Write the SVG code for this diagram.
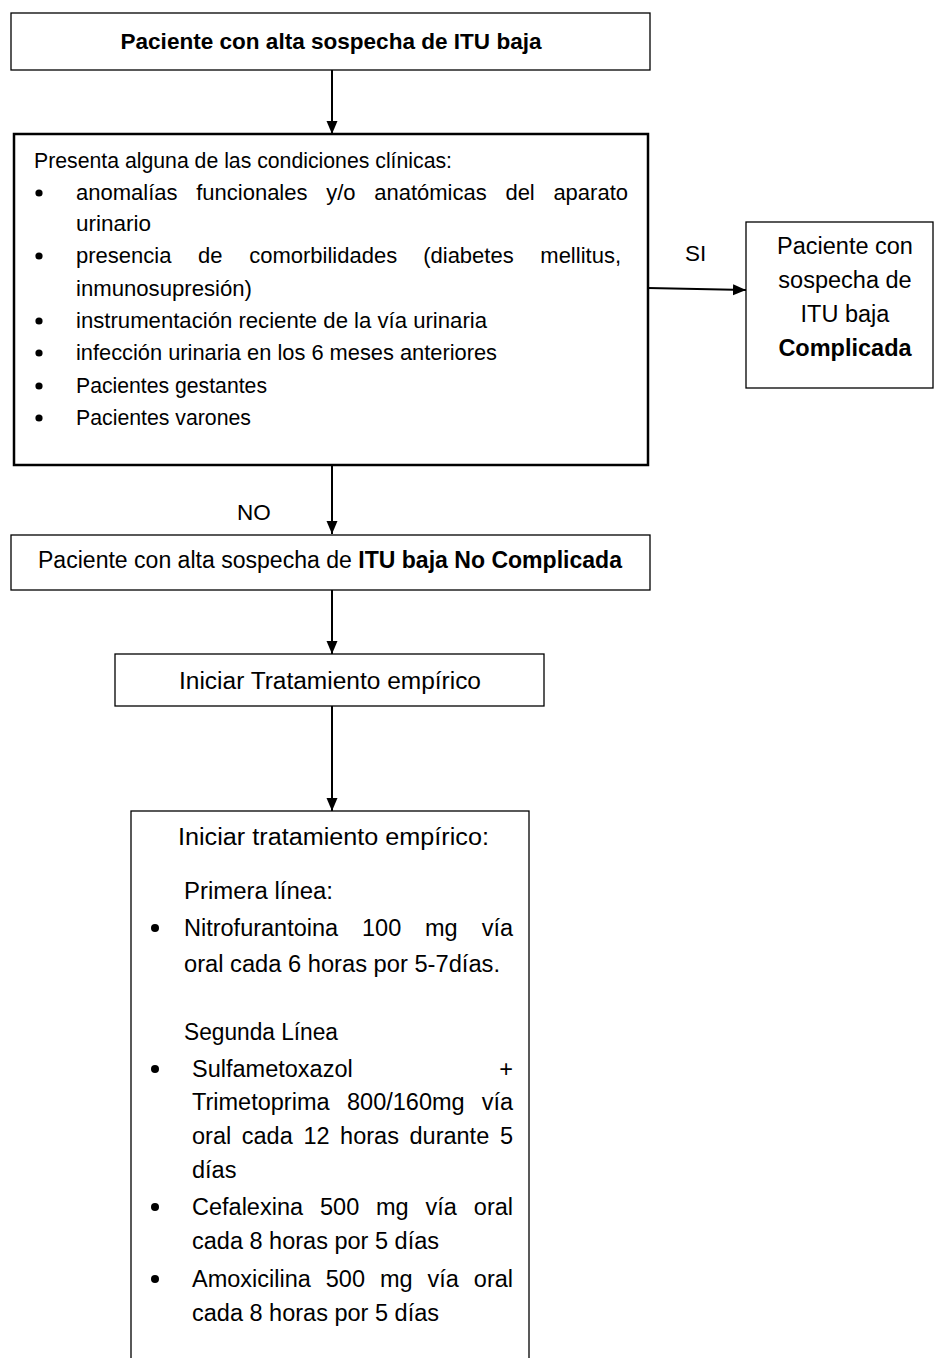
<svg xmlns="http://www.w3.org/2000/svg" width="934" height="1358" viewBox="0 0 934 1358">
<style>
text{font-family:"Liberation Sans",Arial,sans-serif;fill:#000}
.box{fill:#fff;stroke:#000;stroke-width:1.3}
.thick{fill:#fff;stroke:#000;stroke-width:2.5}
.t2{font-size:22px}
.t6{font-size:23.5px}
.b{font-weight:bold}
.c{text-anchor:middle}
.e{text-anchor:end}
.edge{stroke:#000;stroke-width:2;fill:none;marker-end:url(#ah)}
</style>
<defs>
<marker id="ah" markerUnits="userSpaceOnUse" markerWidth="14" markerHeight="12" refX="13" refY="5.5" orient="auto">
<path d="M0,0 L13,5.5 L0,11 z" fill="#000"/>
</marker>
</defs>
<rect width="934" height="1358" fill="#fff"/>
<g id="connectors">
<line class="edge" x1="332" y1="70" x2="332" y2="134"/>
<line class="edge" x1="648" y1="288" x2="746" y2="290"/>
<line class="edge" x1="332" y1="465" x2="332" y2="534"/>
<line class="edge" x1="332" y1="590" x2="332" y2="654"/>
<line class="edge" x1="332" y1="706" x2="332" y2="811"/>
<text x="685" y="261" font-size="22.5">SI</text>
<text x="237" y="520" font-size="22.5">NO</text>
</g>
<g id="n1">
<rect class="box" x="11" y="13" width="639" height="57"/>
<text class="b c" x="331" y="49" font-size="22.5" textLength="421" lengthAdjust="spacingAndGlyphs">Paciente con alta sospecha de ITU baja</text>
</g>
<g id="n2">
<rect class="thick" x="14" y="134" width="634" height="331"/>
<g class="t2">
<text x="34" y="168" textLength="418" lengthAdjust="spacingAndGlyphs">Presenta alguna de las condiciones clínicas:</text>
<circle cx="39" cy="193" r="3.6"/>
<text x="76" y="200">anomalías</text><text x="196.2" y="200">funcionales</text><text x="326.2" y="200">y/o</text><text x="374.2" y="200">anatómicas</text><text x="505.4" y="200">del</text><text class="e" x="628" y="200">aparato</text>
<text x="76" y="231" textLength="75" lengthAdjust="spacingAndGlyphs">urinario</text>
<circle cx="39" cy="256" r="3.6"/>
<text x="76" y="263">presencia</text><text x="198" y="263">de</text><text x="249.2" y="263">comorbilidades</text><text x="423.2" y="263">(diabetes</text><text class="e" x="621" y="263">mellitus,</text>
<text x="76" y="296" textLength="176" lengthAdjust="spacingAndGlyphs">inmunosupresión)</text>
<circle cx="39" cy="321" r="3.6"/>
<text x="76" y="328" textLength="411" lengthAdjust="spacingAndGlyphs">instrumentación reciente de la vía urinaria</text>
<circle cx="39" cy="353" r="3.6"/>
<text x="76" y="360" textLength="421" lengthAdjust="spacingAndGlyphs">infección urinaria en los 6 meses anteriores</text>
<circle cx="39" cy="386" r="3.6"/>
<text x="76" y="393" textLength="191" lengthAdjust="spacingAndGlyphs">Pacientes gestantes</text>
<circle cx="39" cy="418" r="3.6"/>
<text x="76" y="425" textLength="175" lengthAdjust="spacingAndGlyphs">Pacientes varones</text>
</g>
</g>
<g id="n3">
<rect class="box" x="746" y="222" width="187" height="166"/>
<g class="t6 c">
<text x="845" y="254">Paciente con</text>
<text x="845" y="288">sospecha de</text>
<text x="845" y="322">ITU baja</text>
<text class="b" x="845" y="356">Complicada</text>
</g>
</g>
<g id="n4">
<rect class="box" x="11" y="535" width="639" height="55"/>
<text class="t6" x="38" y="568" textLength="584" lengthAdjust="spacingAndGlyphs">Paciente con alta sospecha de <tspan class="b">ITU baja No Complicada</tspan></text>
</g>
<g id="n5">
<rect class="box" x="115" y="654" width="429" height="52"/>
<text class="t6 c" x="330" y="689" textLength="302" lengthAdjust="spacingAndGlyphs">Iniciar Tratamiento empírico</text>
</g>
<g id="n6">
<rect class="box" x="131" y="811" width="398" height="570"/>
<g class="t6">
<text x="178" y="845" textLength="311" lengthAdjust="spacingAndGlyphs">Iniciar tratamiento empírico:</text>
<text x="184" y="899" textLength="149" lengthAdjust="spacingAndGlyphs">Primera línea:</text>
<circle cx="155" cy="928" r="4"/>
<text x="184" y="936">Nitrofurantoina</text><text x="362" y="936">100</text><text x="425" y="936">mg</text><text class="e" x="513" y="936">vía</text>
<text x="184" y="972" textLength="316" lengthAdjust="spacingAndGlyphs">oral cada 6 horas por 5-7días.</text>
<text x="184" y="1040" textLength="154" lengthAdjust="spacingAndGlyphs">Segunda Línea</text>
<circle cx="155" cy="1069" r="4"/>
<text x="192" y="1077">Sulfametoxazol</text><text class="e" x="513" y="1077">+</text>
<text x="192" y="1110">Trimetoprima</text><text x="347" y="1110">800/160mg</text><text class="e" x="513" y="1110">vía</text>
<text x="192" y="1144">oral</text><text x="241.8" y="1144">cada</text><text x="303.4" y="1144">12</text><text x="340.1" y="1144">horas</text><text x="409.5" y="1144">durante</text><text class="e" x="513" y="1144">5</text>
<text x="192" y="1178">días</text>
<circle cx="155" cy="1207" r="4"/>
<text x="192" y="1215">Cefalexina</text><text x="320" y="1215">500</text><text x="376" y="1215">mg</text><text x="425.5" y="1215">vía</text><text class="e" x="513" y="1215">oral</text>
<text x="192" y="1249" textLength="247" lengthAdjust="spacingAndGlyphs">cada 8 horas por 5 días</text>
<circle cx="155" cy="1279" r="4"/>
<text x="192" y="1287">Amoxicilina</text><text x="325.8" y="1287">500</text><text x="380" y="1287">mg</text><text x="427.5" y="1287">vía</text><text class="e" x="513" y="1287">oral</text>
<text x="192" y="1321" textLength="247" lengthAdjust="spacingAndGlyphs">cada 8 horas por 5 días</text>
</g>
</g>
</svg>
